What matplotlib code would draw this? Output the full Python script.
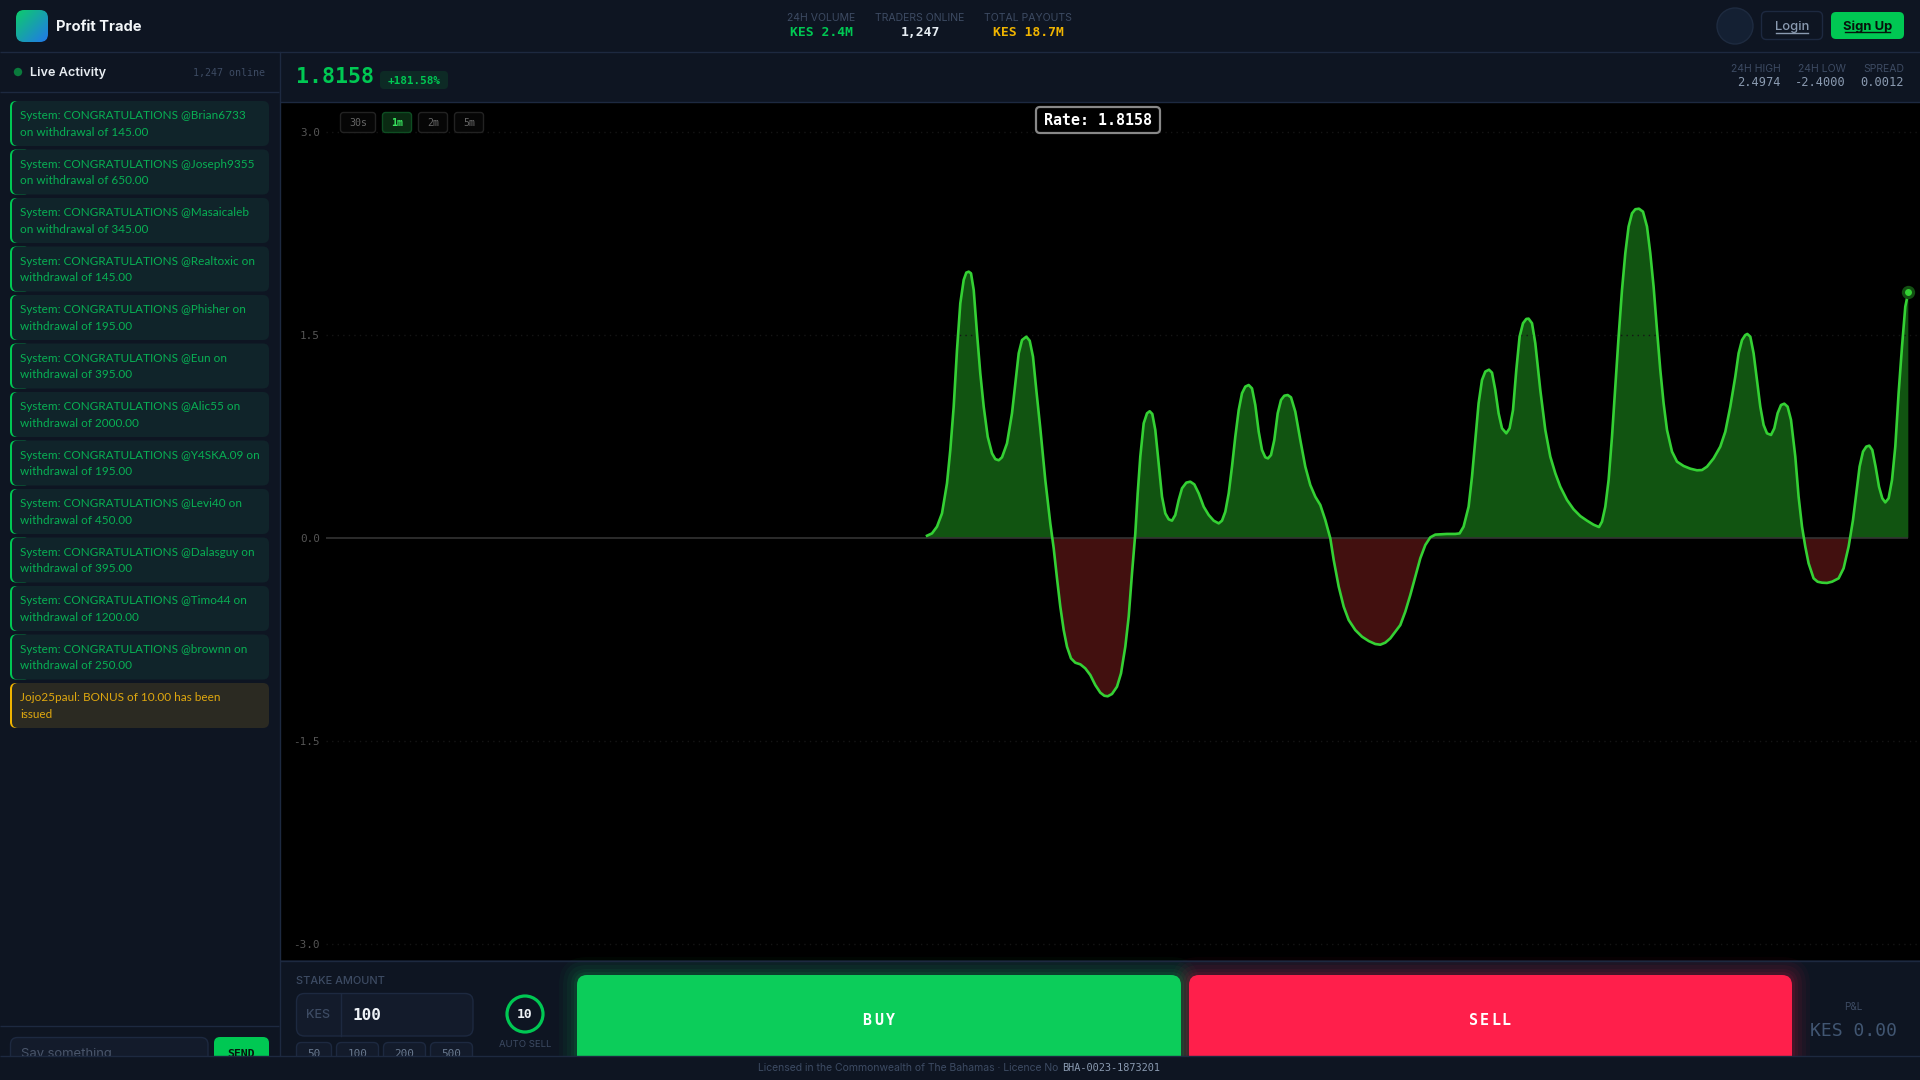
import numpy as np
import matplotlib
matplotlib.use("Agg")
from matplotlib import pyplot as plt
from matplotlib.patches import FancyBboxPatch, Rectangle, Circle

# rate series (tick position, rate)
ticks = [0, 5, 10, 15, 20, 23.3, 26.7, 30, 33.3, 36.7, 39.3, 41.7, 44, 46.7, 50, 53.3, 56.7, 60.7, 65, 68.3, 71.7, 75, 80, 85, 88.3, 91.7, 95, 99.3, 102.7, 106, 109.3, 113.3, 118.3, 123.3, 126.7, 130, 133.3, 136.7, 140, 144, 148.3, 153.3, 158.3, 163.3, 168.3, 173.3, 177.3, 180.7, 185, 190, 194, 198.3, 201.7, 205, 208.3, 210.7, 213.3, 216.7, 220, 222.7, 225.3, 228.3, 231.7, 235, 238.3, 241.7, 245, 248.3, 251.7, 255, 259.3, 263.3, 267.3, 271.7, 276.7, 281.7, 286.7, 291.7, 295, 298.3, 301.7, 305, 308.3, 311.7, 315, 318.3, 321.7, 325, 328.3, 331.7, 335, 338.3, 341, 344, 347.3, 350.7, 354, 357.3, 360.7, 364, 368.3, 373.3, 378.3, 383.3, 388.3, 393.3, 398.3, 403.3, 406.7, 411.7, 416.7, 421.7, 428.3, 435, 441.7, 448.3, 453.3, 458.3, 463.3, 468.3, 473.3, 478.3, 483.3, 488.3, 493.3, 498.3, 503.3, 508.3, 513.3, 520, 528.3, 532.6, 536.6, 541.6, 545, 548.3, 551.6, 555, 558.3, 562, 565, 568.3, 571.6, 575, 579.3, 582.6, 586, 589.3, 592.6, 596, 599.3, 601.6, 605, 608.3, 613.3, 618.3, 623.3, 628.3, 633.3, 640, 646.6, 653.3, 660, 666.6, 672, 675, 678.3, 681.6, 685, 688.3, 691.6, 695, 698.3, 701.6, 705, 708.3, 712, 716, 720, 723.3, 726.6, 730, 733.3, 736.6, 740, 745, 750, 756.6, 763.3, 770, 775, 780, 786.6, 793.3, 798.3, 803.3, 808.3, 811.6, 815, 818.3, 820.3, 823.3, 826.6, 830, 833.3, 836.6, 840, 844, 847.3, 850.6, 854, 857.3, 860.6, 864, 868.3, 871.6, 875, 878.3, 881.6, 886.6, 890.6, 895, 900, 905, 911.6, 916.6, 921.6, 926, 929.3, 932.6, 936, 939.3, 942.3, 945.3, 948.6, 952, 955.3, 958.3, 961.6, 965, 968.3, 971.6, 975, 978.3, 981.3]
rates = [0.017, 0.034, 0.084, 0.182, 0.404, 0.650, 0.970, 1.389, 1.733, 1.906, 1.960, 1.967, 1.955, 1.832, 1.512, 1.216, 0.970, 0.748, 0.625, 0.583, 0.574, 0.596, 0.699, 0.921, 1.142, 1.364, 1.462, 1.487, 1.457, 1.339, 1.093, 0.810, 0.428, 0.108, -0.076, -0.298, -0.507, -0.680, -0.803, -0.889, -0.921, -0.933, -0.963, -1.012, -1.086, -1.142, -1.165, -1.169, -1.152, -1.098, -1.000, -0.803, -0.581, -0.261, 0.034, 0.330, 0.601, 0.847, 0.921, 0.936, 0.916, 0.798, 0.551, 0.305, 0.182, 0.138, 0.128, 0.170, 0.281, 0.367, 0.409, 0.416, 0.396, 0.330, 0.231, 0.170, 0.128, 0.108, 0.128, 0.194, 0.330, 0.527, 0.748, 0.945, 1.069, 1.118, 1.130, 1.105, 0.982, 0.785, 0.650, 0.596, 0.588, 0.613, 0.724, 0.921, 1.019, 1.051, 1.056, 1.039, 0.933, 0.724, 0.527, 0.391, 0.305, 0.244, 0.133, -0.002, -0.162, -0.359, -0.507, -0.606, -0.680, -0.729, -0.761, -0.783, -0.788, -0.773, -0.741, -0.692, -0.643, -0.544, -0.421, -0.286, -0.150, -0.052, 0.005, 0.025, 0.027, 0.030, 0.030, 0.034, 0.084, 0.231, 0.453, 0.724, 0.995, 1.167, 1.229, 1.243, 1.221, 1.093, 0.921, 0.810, 0.773, 0.810, 0.945, 1.241, 1.487, 1.586, 1.618, 1.620, 1.586, 1.438, 1.093, 0.798, 0.601, 0.478, 0.379, 0.281, 0.212, 0.162, 0.128, 0.098, 0.081, 0.121, 0.231, 0.428, 0.748, 1.118, 1.487, 1.832, 2.103, 2.300, 2.398, 2.428, 2.432, 2.410, 2.300, 2.103, 1.856, 1.536, 1.241, 0.995, 0.798, 0.638, 0.564, 0.532, 0.512, 0.500, 0.502, 0.527, 0.588, 0.675, 0.785, 0.970, 1.192, 1.364, 1.462, 1.499, 1.507, 1.487, 1.364, 1.167, 0.970, 0.835, 0.773, 0.761, 0.810, 0.921, 0.982, 0.992, 0.970, 0.872, 0.601, 0.305, 0.084, -0.064, -0.187, -0.298, -0.323, -0.330, -0.332, -0.323, -0.298, -0.224, -0.064, 0.133, 0.330, 0.527, 0.638, 0.675, 0.682, 0.650, 0.527, 0.379, 0.293, 0.263, 0.293, 0.428, 0.675, 1.069, 1.413, 1.709, 1.8158]

ytick_vals = [3.0, 1.5, 0.0, -1.5, -3.0]
ytick_labels = ["3.0", "1.5", "0.0", "-1.5", "-3.0"]

chat_msgs = [
    ["System: CONGRATULATIONS @Brian6733", "on withdrawal of 145.00"],
    ["System: CONGRATULATIONS @Joseph9355", "on withdrawal of 650.00"],
    ["System: CONGRATULATIONS @Masaicaleb", "on withdrawal of 345.00"],
    ["System: CONGRATULATIONS @Realtoxic on", "withdrawal of 145.00"],
    ["System: CONGRATULATIONS @Phisher on", "withdrawal of 195.00"],
    ["System: CONGRATULATIONS @Eun on", "withdrawal of 395.00"],
    ["System: CONGRATULATIONS @Alic55 on", "withdrawal of 2000.00"],
    ["System: CONGRATULATIONS @Y4SKA.09 on", "withdrawal of 195.00"],
    ["System: CONGRATULATIONS @Levi40 on", "withdrawal of 450.00"],
    ["System: CONGRATULATIONS @Dalasguy on", "withdrawal of 395.00"],
    ["System: CONGRATULATIONS @Timo44 on", "withdrawal of 1200.00"],
    ["System: CONGRATULATIONS @brownn on", "withdrawal of 250.00"],
    ["Jojo25paul: BONUS of 10.00 has been", "issued"],
]
header_stats = [("24H VOLUME", "KES 2.4M", "#00c853", 821), ("TRADERS ONLINE", "1,247", "#e6edf3", 920), ("TOTAL PAYOUTS", "KES 18.7M", "#f0b400", 1028)]
price_stats = [("24H HIGH", "2.4974", 1781), ("24H LOW", "-2.4000", 1846), ("SPREAD", "0.0012", 1904)]
time_btns = [("30s", 340, 376), ("1m", 382, 412), ("2m", 418, 448), ("5m", 454, 484)]
quick_btns = [("50", 296, 332), ("100", 336, 379), ("200", 383, 426), ("500", 430, 473)]

BG = "#0e1522"
LINE = "#1d2940"
MUTED = "#3d4b63"
GREEN = "#00c853"
MONO = "DejaVu Sans Mono"
SANS = "Inter"

def px(v):
    return v * 0.72

fig = plt.figure(figsize=(19.2, 10.8), dpi=100, facecolor=BG)

# chart, 1 tick = 1 pixel across
ax = fig.add_axes([280 / 1920, 1 - 960 / 1080, 1640 / 1920, 858 / 1080], facecolor="black", zorder=1)
ax.set_xlim(-647, 993)
ax.set_ylim((538 - 960) / 135.4, (538 - 102) / 135.4)
t = np.array(ticks)
r = np.array(rates)
ax.hlines([3.0, 1.5, -1.5, -3.0], -601, 993, color="#151515", lw=1, linestyles=(0, (1, 3)))
ax.hlines(0, -601, t[-1], color="#333333", lw=1.2)
ax.fill_between(t, 0, r, where=r >= 0, interpolate=True, color="#115411", lw=0)
ax.fill_between(t, 0, r, where=r <= 0, interpolate=True, color="#42100f", lw=0)
ax.plot(t, r, color="#34d134", lw=1.9, solid_joinstyle="round")
ax.plot(t[-1], r[-1], "o", ms=9.6, color="#124f12", mew=0, clip_on=False)
ax.plot(t[-1], r[-1], "o", ms=5, color="#34d134", mew=0, clip_on=False)
for s in ax.spines.values():
    s.set_visible(False)
ax.set_xticks([])
ax.set_yticks(ytick_vals)
ax.set_yticklabels(ytick_labels, family=MONO, fontsize=px(11), color="#555555")
ax.tick_params(axis="y", length=0, pad=-px(40))

# everything around the chart, in pixel coordinates
ui = fig.add_axes([0, 0, 1, 1], zorder=3)
ui.set_xlim(0, 1920)
ui.set_ylim(1080, 0)
ui.axis("off")
ui.patch.set_alpha(0)

def box(x0, y0, x1, y1, fc, ec="none", rad=6, lw=1, alpha=1, z=2):
    p = FancyBboxPatch((x0 + rad, y0 + rad), x1 - x0 - 2 * rad, y1 - y0 - 2 * rad, boxstyle="round,pad=%f,rounding_size=%f" % (rad, rad),
                       fc=fc, ec=ec, lw=lw, alpha=alpha, zorder=z)
    ui.add_patch(p)
    return p

def label(x, y, s, size, color, ha="left", family=SANS, weight="normal", z=5):
    return ui.text(x, y + 1.2, s, fontsize=px(size), color=color, ha=ha, va="center", family=family, fontweight=weight, zorder=z)

def spaced(cx, y, s, size, color, adv):
    # mono text with letter spacing
    for i, ch in enumerate(s):
        label(cx + (i - (len(s) - 1) / 2) * adv, y, ch, size, color, ha="center", family=MONO, weight="bold")

def hline(y, x0=0, x1=1920, z=3):
    ui.plot([x0, x1], [y, y], color=LINE, lw=1, zorder=z, solid_capstyle="butt")

# header
hline(51.5)
hline(101.5, 280)
hline(92, 0, 279)
ui.plot([279.5, 279.5], [52, 1056], color=LINE, lw=1, zorder=3)
grad = np.linspace(0, 1, 64)
gx, gy = np.meshgrid(grad, grad)
mix = ((gx + gy) / 2)[..., None]
logo = (1 - mix) * np.array([0.05, 0.80, 0.42]) + mix * np.array([0.13, 0.47, 0.92])
im = ui.imshow(logo, extent=(16, 48, 42, 10), zorder=4, aspect="auto")
im.set_clip_path(box(16, 10, 48, 42, "none", rad=8))
ui.set_xlim(0, 1920)
ui.set_ylim(1080, 0)
label(56, 26, "Profit Trade", 14.7, "#f2f5f8", weight="bold")
for name, val, col, cx in header_stats:
    label(cx, 17, name, 10.5, MUTED, ha="center")
    label(cx, 31, val, 13, col, ha="center", family=MONO, weight="bold")
ui.add_patch(Circle((1735, 26), 18, fc="#142033", ec="#1e2b40", lw=1, zorder=3))
box(1761.5, 11.5, 1822.5, 39.5, "none", LINE, rad=5)
label(1792, 25.5, "Login", 13, "#8a9ab0", ha="center", weight="medium")
ui.plot([1776, 1808], [32.5, 32.5], color="#8a9ab0", lw=1, zorder=5)
box(1831, 12, 1904, 39, GREEN, rad=5)
label(1867.5, 25.5, "Sign Up", 13, "#07130c", ha="center", weight="bold")
ui.plot([1845, 1890], [32, 32], color="#07130c", lw=1, zorder=5)

# sidebar
ui.add_patch(Circle((18, 72), 4.2, fc="#0a7a3c", ec="none", zorder=4))
label(30, 72, "Live Activity", 12.7, "#e8edf2", weight="semibold")
label(265, 71.5, "1,247 online", 10, MUTED, ha="right", family=MONO)
for i, lines in enumerate(chat_msgs):
    top = 101 + i * 48.5
    bonus = i == len(chat_msgs) - 1
    fc, tc, bc = ("#2b2a22", "#e0a80f", "#f0b400") if bonus else ("#10242a", "#08b054", GREEN)
    box(10, top, 30, top + 45, bc, rad=6)
    box(12, top, 269, top + 45, fc, rad=6)
    label(20, top + 13.5, lines[0], 11.8, tc, family="Lato")
    label(20, top + 30, lines[1], 11.8, tc, family="Lato")
hline(1026, 0, 279)
box(10.5, 1037.5, 208, 1075, "#131b2b", LINE, rad=7)
label(21, 1053, "Say something", 13, "#4a566b")
box(214, 1037, 269, 1075, GREEN, rad=6)
label(241.5, 1053, "SEND", 11.5, "#07130c", ha="center", family=MONO, weight="bold")

# price bar
label(296, 76, "1.8158", 21.6, GREEN, family=MONO, weight="bold")
box(380, 71, 448, 89, "#0d2a25", rad=4)
label(414, 79.5, "+181.58%", 11, GREEN, ha="center", family=MONO, weight="bold")
for name, val, xr in price_stats:
    label(xr, 67.5, name, 10.5, MUTED, ha="right")
    label(xr, 81, val, 12, "#8a9ab0", ha="right", family=MONO)

# chart overlays
for name, x0, x1 in time_btns:
    on = name == "1m"
    box(x0 + .5, 112.5, x1 - .5, 132.5, "#0a2a12" if on else "#060606", "#0e4d22" if on else "#222222", rad=3)
    label((x0 + x1) / 2, 121.5, name, 10, "#39e75f" if on else "#666666", ha="center", family=MONO, weight="bold" if on else "normal")
box(1036, 107, 1160, 133, "black", "#888888", rad=4, lw=1.6)
label(1098, 119, "Rate: 1.8158", 15, "white", ha="center", family=MONO, weight="bold")

# trade panel
hline(960.5, 280)
label(296, 980, "STAKE AMOUNT", 11, MUTED, weight="medium")
box(296.5, 993.5, 473, 1036, "#131b2b", LINE, rad=8)
ui.plot([340.5, 340.5], [994, 1036], color=LINE, lw=1, zorder=3)
label(318, 1014, "KES", 12.5, MUTED, ha="center", weight="medium")
label(353, 1014, "100", 16, "#eef2f6", family=MONO, weight="bold")
for name, x0, x1 in quick_btns:
    box(x0 + .5, 1042.5, x1 - .5, 1075, "#131b2b", LINE, rad=5)
    label((x0 + x1) / 2, 1053, name, 11, "#6a7a90", ha="center", family=MONO)
ui.add_patch(Circle((525, 1014), 18, fc="none", ec=GREEN, lw=2.3, zorder=4))
label(525, 1013, "10", 13, "#eef2f6", ha="center", family=MONO, weight="bold")
label(525, 1043, "AUTO SELL", 9.5, MUTED, ha="center")

# soft glow round the two big buttons
for grow, a in [(18, .03), (14, .04), (10, .05), (6, .06), (3, .08)]:
    box(577 - grow, 975 - grow, 1181 + grow, 1090, "#0ccf5b", rad=10 + grow, alpha=a, z=2)
    box(1189 - grow, 975 - grow, 1792 + grow, 1090, "#ff1f4b", rad=10 + grow, alpha=a, z=2)
box(577, 975, 1181, 1090, "#0ccd5a", rad=10, z=3)
box(1189, 975, 1792, 1090, "#ff1f4b", rad=10, z=3)
spaced(878.5, 1019.5, "BUY", 15, "white", 12)
spaced(1490, 1019.5, "SELL", 15, "white", 10.8)
label(1853, 1006, "P&L", 10, MUTED, ha="center")
label(1854, 1030, "KES 0.00", 18, "#415672", ha="center", family=MONO)

# footer goes over whatever pokes below the panels
ui.add_patch(Rectangle((0, 1056), 1920, 24, fc=BG, ec="none", zorder=8))
hline(1056, z=9)
label(758, 1067, "Licensed in the Commonwealth of The Bahamas · Licence No", 10.4, MUTED, z=10)
label(1062.5, 1067, "BHA-0023-1873201", 10.2, "#8a9ab0", family=MONO, z=10)

fig.savefig("out.png", dpi=100, facecolor=BG)
